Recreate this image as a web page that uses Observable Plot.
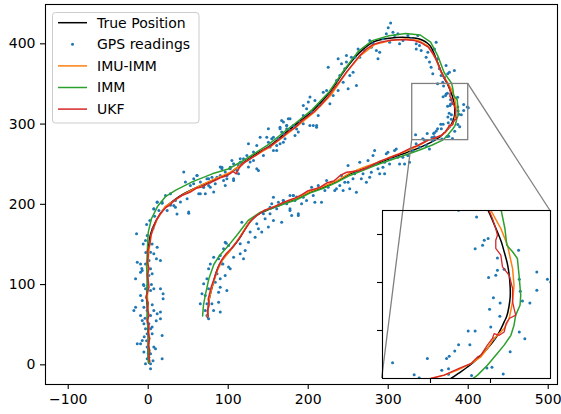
<!DOCTYPE html>
<html>
<head>
<meta charset="utf-8">
<script src="https://cdn.jsdelivr.net/npm/d3@7"></script>
<script src="https://cdn.jsdelivr.net/npm/@observablehq/plot@0.6"></script>
<style>
  html, body { margin: 0; padding: 0; background: white; }
  #chart { position: relative; width: 561px; height: 414px; }
  #chart svg { position: absolute; }
</style>
</head>
<body>
<div id="chart"></div>
<script>
// ---------- data ----------
const seriesNames = ["True Position", "GPS readings", "IMU-IMM", "IMM", "UKF"];
const seriesColors = ["#000000", "#1f77b4", "#ff7f0e", "#2ca02c", "#d62728"];
const xTicks = [-100, 0, 100, 200, 300, 400, 500];
const yTicks = [0, 100, 200, 300, 400];
const insetXTicks = [350, 375];
const insetYTicks = [300, 320, 340];
const zoomRegion = [{x1: 330, x2: 400, y1: 280, y2: 350}];

const truePos = [[1,2],[0,12],[0,25],[0,40],[-1,55],[-1,70],[-2,84],[-1,100],[-1,120],[0,142],[3,163],[10,180],[21,196],[32,205],[44,213],[65,223],[86,232],[102,239],[119,252],[135,263],[152,273],[168,286],[185,300],[206,317],[227,340],[247,369],[264,389],[281,402],[302,407],[322,408],[339,406],[352,398],[360,381],[368,361],[374,350],[376.2,345],[377.9,341],[379.5,337],[380.7,332.8],[382,328],[382.8,323],[383.2,318],[383.2,314],[382.7,310],[381.8,306],[380.7,303.6],[379.4,300.8],[377.9,298],[376,295.3],[373.7,292.5],[371,289.7],[368.2,287],[365.4,284.8],[362.6,282.8],[358.5,280],[352,276.5],[340,271],[327,266],[302,257],[285,250.5],[268.5,244],[252,238],[235,228],[219,221],[202,215],[186,207],[169,201],[152,194],[140,189],[127,178],[115,159],[102,142],[92,130],[86,118],[80,97],[76,80],[74,59]];

const imuImm = [[1,3],[1,13],[0,26],[1,41],[-1,56],[0,71],[-1,85],[0,101],[-1,121],[1,143],[4,163],[11,181],[21,197],[33,205],[45,213],[66,224],[86,233],[103,240],[120,252],[136,262],[153,272],[170,285],[187,298],[208,315],[229,337],[249,366],[266,386],[283,399],[303,404],[322,406],[338,404],[350,397],[359,382],[367,363],[375.1,350.1],[379.3,342.5],[382.1,335.5],[384.2,325.8],[384.8,318.9],[384.2,312],[382.8,305],[380.7,300.8],[376.5,296.7],[373.7,292.5],[371,289],[366.8,286.2],[361.3,283.5],[355.7,281.4],[350.1,280],[340,274],[327,268],[303,259],[286,252],[269,246],[252,239],[235,229],[218,222],[202,216],[186,208],[169,202],[152,195],[140,190],[127,179],[115,160],[103,143],[93,131],[87,119],[80,98],[76,81],[74,60]];

const imm = [[0,3],[0,14],[1,27],[0,42],[-1,57],[-1,72],[-2,86],[-1,102],[-2,122],[-1,144],[0,165],[4,182],[12,198],[22,210],[35,218],[55,228],[80,238],[100,244],[118,254],[134,264],[151,275],[167,288],[184,301],[205,318],[226,340],[246,369],[263,391],[280,404],[301,410],[322,413],[340,411],[353,402],[362,385],[370,364],[379.3,350.8],[381,342.5],[381.8,335.5],[384.2,332.8],[386.2,330],[386.9,323],[387.6,314.7],[387.3,310.5],[385.5,306.4],[384.8,302.2],[383.5,298],[380.7,293.9],[377.2,289.7],[373.7,285.5],[369.6,281.4],[366.8,279.3],[355,274],[340,268],[326,263],[302,255],[285,249],[268,242],[252,236],[235,227],[219,220],[202,214],[186,206],[169,200],[152,194],[140,190],[125,180],[112,163],[99,147],[89,136],[82,125],[76,108],[72,90],[69,74],[68,61]];

const ukf = [[2,4],[1,10],[2,18],[0,25],[2,33],[0,40],[1,48],[-1,55],[1,62],[-1,70],[0,77],[-3,84],[-1,90],[1,97],[0,105],[-1,112],[1,120],[-1,128],[0,136],[-1,142],[2,150],[3,160],[6,170],[10,180],[15,188],[22,196],[28,200],[34,206],[42,211],[52,215],[60,220],[68,222],[75,226],[84,230],[90,233],[96,235],[102,238],[106,241],[110,238],[114,246],[120,252],[128,257],[136,262],[144,268],[152,272],[160,278],[168,284],[176,291],[184,296],[192,304],[200,310],[208,316],[216,324],[224,333],[232,344],[240,354],[248,365],[256,375],[264,385],[272,393],[281,399],[290,402],[300,404],[311,405],[322,405],[333,404],[342,401],[350,396],[356,388],[361,378],[366,366],[370,358],[374.4,350.1],[375.8,346.7],[377.2,342.5],[377.9,339.7],[377.2,337.6],[377.2,334.2],[379.3,331.4],[380,326.5],[382.8,323],[384.2,317.5],[384.2,312],[384.8,309.2],[385.5,306.4],[382.8,305],[381.5,302.9],[380.7,299.4],[378.6,298],[376.5,298.7],[375.8,296.7],[373.7,293.9],[371,289.7],[369.6,289],[366.8,286.2],[361.9,284.2],[355.7,281.4],[350.1,280],[344,277],[336,273],[328,270],[320,266],[312,262],[304,259],[296,256],[288,253],[280,249],[272,245],[264,242],[256,241],[248,240],[240,236],[232,229],[224,227],[216,222],[208,219],[200,217],[192,212],[184,208],[176,205],[168,202],[160,198],[152,195],[146,193],[140,189],[134,185],[128,179],[122,170],[116,161],[110,152],[104,145],[97,138],[92,131],[88,123],[85,115],[82,106],[79,98],[77,90],[75,82],[76,74],[74,67],[75,60]];

const gps = [
  // first vertical leg
  [11.2,202.6],[17.4,201.4],[27.8,200.5],[31.9,198.5],[34,196.4],[50.6,188.9],[23.6,192.2],[36,188],[7,194.3],[-14.6,163.2],[-1.3,161.1],[-3.4,154.9],[-6.3,150.7],[4.9,150.7],[11.2,146.6],[2.9,140.4],[7,138.3],[10.3,132.1],[15.3,130],[-13.7,127.9],[-9.6,125.8],[-3.4,125.8],[-7.5,117.5],[-9.6,115.5],[2.9,119.6],[4.9,113.4],[0.8,111.3],[-15.8,107.2],[-5.4,98.9],[-3.4,94.7],[2.9,92.6],[7,94.7],[15.3,94.7],[18.6,88.5],[18.6,82.2],[-9.6,86.4],[-7.5,80.2],[-15.8,71.9],[-17.9,67.7],[-5.4,71.9],[-1.3,67.7],[7,67.7],[2.9,61.5],[11.2,63.6],[15.3,65.7],[-9.6,61.5],[-7.5,55.3],[-5.4,51.1],[0.8,51.1],[4.9,47],[-3.4,44.9],[15.3,57.4],[17.4,36.6],[-1.3,38.7],[4.9,38.7],[-7.5,30.4],[-13.7,26.3],[-9.6,26.3],[-1.3,22.1],[7,22.1],[9.1,20],[-5.4,15.9],[2.9,13.8],[0.8,9.6],[17.4,7.6],[-3.4,1.3],[2.9,1.3],[2.9,-4.9],[-1.3,7.6],
  [-2,30],[3,45],[-4,58],[5,75],[-6,100],[1,130],[-3,140],[6,170],[2,180],[8,185],[-2,175],[4,100],[-8,120],[10,55],[-5,35],[0,14],[6,5],
  // second leg, lower part
  [97.5,151.6],[90,136.2],[88,132.1],[77.6,125.8],[93.3,125.8],[102.5,119.6],[75.5,119.6],[85.9,113.4],[96.2,111.3],[90,107.2],[73.4,107.2],[69.3,100.9],[83.8,103],[90,96.8],[98.3,92.6],[88,90.6],[67.2,88.5],[71.3,86.4],[75.5,94.7],[65.1,76],[73.4,76],[79.6,76],[88,78.1],[90,65.7],[81.7,67.7],[71.3,67.7],[75.5,57.4],[73.4,61.5],
  // second leg, middle
  [117,177.8],[96.3,152.9],[94.2,144.6],[106.7,134.2],[115,138.4],[119.1,132.2],[121.2,142.5],[125.3,152.9],[127.4,165.4],[135.7,175.7],[137.8,169.5],[141.9,165.4],[133.6,159.1],[150.2,171.6],[156.5,179.9],[146.1,182],[144,188.2],[152.3,188.2],[154.4,200.6],[162.7,198.6],[168.9,204.8],[177.2,194.4],[179.3,186.1],[166.8,177.8],[181.4,211],[185.5,209],[187.6,188.2],[81.8,134.2],[92.1,125.9],[100.4,121.8],[100.4,148.8],[115,150.9],
  // first leg diagonal
  [61,235.9],[69.3,221.4],[71.4,213.1],[77.6,221.4],[83.8,225.5],[85.9,233.9],[94.2,229.7],[96.3,223.5],[98.4,235.9],[106.7,229.7],[106.7,250.5],[115,252.5],[131.6,254.6],[137.8,242.1],[110.8,242.1],[92.1,246.3],[56.8,225.5],[75.5,231.8],[102.5,246.3],[65.1,213.1],
  [7.05,194.5],[11.2,202.8],[17.4,202.8],[21.6,211.1],[27.8,213.2],[34,204.9],[40.3,202.8],[48.6,206.9],[44.4,240.2],[46.5,227.7],[52.7,223.6],[56.9,231.9],[61,236],[65.2,227.7],[69.3,221.5],[75.5,223.6],[77.6,227.7],[81.8,215.3],[63.1,213.2],[90,236],[92.1,244.3],[96.3,240.2],[98.3,231.9],[104.6,254.7],[106.7,231.9],[112.9,248.4],[115,256.8],[119.1,256.8],[125.3,246.4],[127.4,252.6],[123.3,260.9],[125.3,275.4],[135.7,273.4],[135.7,244.3],[131.6,265.1],[139.9,283.7],[148.2,283.7],[150.2,277.5],[152.3,271.3],[154.4,281.7],[156.5,267.1],[160.6,273.4],[162.7,281.7],[166.8,290],[166.8,304.5],[168.9,277.5],[171,281.7],[173.1,294.1],[175.1,306.6],[102.5,244.3],[73.4,231.9],[90,246.4],[27.8,198.7],[50.6,190.4],[13.3,192.4],[79.7,233.9],[112.9,238.1],[144,260.9],[150.2,294.1],
  [164.8,296.1],[168.9,287.8],[173.1,298.2],[156.5,283.7],[164.8,275.4],[177.2,292],[185.5,294],[193.8,300.3],[202.1,298.2],[210.4,296.1],[160.6,267],
  // upper loop
  [164.8,294.2],[169,302.5],[173.1,298.3],[177.3,306.6],[181.4,298.3],[183.5,285.9],[187.6,290],[189.7,302.5],[193.9,310.8],[193.9,323.2],[198,319.1],[200.1,327.4],[202.2,333.6],[204.2,314.9],[206.3,298.3],[210.5,298.3],[212.5,310.8],[208.4,329.4],[214.6,323.2],[218.8,339.8],[222.9,341.9],[227.1,325.3],[231.2,335.7],[225,370.9],[235.4,354.3],[237.4,341.9],[239.5,360.6],[241.6,375.1],[243.7,352.2],[245.7,368.9],[247.8,377.2],[249.9,344],[252,360.6],[254,383.4],[258.2,383.4],[256.1,364.7],[262.3,393.7],[264.4,383.4],[270.6,391.7],[276.9,404.1],[278.9,395.8],[281,400],[285.2,391.7],[287.2,381.3],[289.3,389.6],[293.5,406.2],[297.6,412.4],[301.8,402],[305.9,414.5],[308,410.4],[312.1,412.4],[314.2,400],[318.4,404.1],[324.6,410.4],[328.7,406.2],[335,400],[335,393.7],[337,410.4],[339.1,397.9],[341.2,391.7],[347.4,383.4],[349.5,389.6],[351.6,377.2],[353.6,370.9],[355.7,362.6],[359.9,402],[361.9,381.3],[357.8,393.7],[364,368.9],[366.1,360.6],[368.2,352.2],[370.2,358.5],[372.3,373],[374.4,362.6],[376.5,364.7],[382.7,366.8],[247.8,385.4],[237.4,381.3],[260.3,348.1],[300,420],[303,426],
  // zoomed region
  [361.7,350.1],[369.2,347.3],[374,338.3],[372.4,337.6],[371.7,335.5],[368.6,334.1],[377.9,330.2],[380.7,325.5],[377.9,325.1],[377.2,323],[374.2,322.1],[386.7,333.4],[387,321.4],[394.3,324.4],[398.7,321.4],[400.1,320.2],[394.3,316.8],[387.4,316.4],[388.3,312.3],[391.4,311.5],[376.2,313.6],[379,311.5],[374.6,308.9],[378.9,305.9],[375.1,301.5],[365.7,299.8],[368.6,299.8],[387,299.4],[389.3,296.6],[376.5,296.6],[361.7,294.1],[366.4,294.1],[383.2,291.1],[360.1,291.5],[357.8,289.3],[356.7,288.3],[348.7,288.3],[354.7,283.4],[357.5,284.1],[334.2,286.6],[375.6,284.7],[373.5,284.4],[367.1,281.3],[380.3,281.9],[345.3,280.2],[357.5,281.8],
  // return leg
  [156.5,208.9],[160.6,194.4],[162.7,202.7],[168.9,204.8],[173.1,200.6],[177.2,192.4],[181.4,211],[183.4,204.8],[187.6,186.1],[191.7,200.6],[193.8,208.9],[197.9,204.8],[204.2,221.4],[206.3,211],[212.5,223.5],[216.6,202.7],[220.8,217.3],[224.9,221.4],[229.1,227.6],[233.2,217.3],[239.5,223.5],[241.5,235.9],[243.6,217.3],[245.7,227.6],[249.8,248.4],[251.9,219.3],[256,231.8],[258.1,238],[262.3,242.2],[264.4,252.5],[266.4,231.8],[268.5,238],[272.7,246.3],[274.7,254.6],[276.8,233.9],[278.9,240.1],[281,260.8],[283,267],[285.1,250.4],[287.2,244.2],[289.3,238],[293.4,246.3],[295.5,252.5],[297.6,262.9],[299.6,265],[301.7,250.4],[303.8,256.7],[307.9,267],[310,269.1],[312.1,258.8],[314.2,250.4],[318.3,258.8],[320.4,250.4],[324.5,260.8],[326.6,252.5],[330.8,267],[260.2,215.2],[235.3,219.3],[208.3,202.7],[222.9,229.7],[272.7,227.6],[295.5,238],[249.8,227.6],[177.2,211],[152.3,196.5],
  [334.9,275.4],[343.2,281.6],[339,271.2],[347.4,273.3],[355.7,279.5],[351.5,269.1]
];

// ---------- layout ----------
const W = 561, H = 414;
const font = "14px 'DejaVu Sans', sans-serif";
const fmt = d => (d < 0 ? "\u2212" + (-d) : String(d));
const xy = {x: d => d[0], y: d => d[1]};
const lw = 1.5;

const main = Plot.plot({
  width: W, height: H,
  marginLeft: 45, marginRight: 4, marginTop: 4, marginBottom: 30,
  style: {font, background: "white", overflow: "visible"},
  x: {domain: [-128.4, 511.6]},
  y: {domain: [-24.5, 449]},
  marks: [
    Plot.axisX({ticks: xTicks, tickSize: 5, tickPadding: 5, tickFormat: fmt, stroke: "#000", fill: "#000", strokeWidth: 1.1, fontSize: 14}),
    Plot.axisY({ticks: yTicks, tickSize: 5, tickPadding: 5, tickFormat: fmt, stroke: "#000", fill: "#000", strokeWidth: 1.1, fontSize: 14}),
    Plot.line(truePos, {...xy, stroke: seriesColors[0], strokeWidth: lw, curve: "catmull-rom"}),
    Plot.dot(gps, {...xy, r: 1.5, fill: seriesColors[1], stroke: "none"}),
    Plot.line(imuImm, {...xy, stroke: seriesColors[2], strokeWidth: lw}),
    Plot.line(imm, {...xy, stroke: seriesColors[3], strokeWidth: lw}),
    Plot.line(ukf, {...xy, stroke: seriesColors[4], strokeWidth: lw}),
    Plot.rect(zoomRegion, {x1: "x1", x2: "x2", y1: "y1", y2: "y2", fill: "none", stroke: "#808080", strokeWidth: 1.3}),
    Plot.frame({stroke: "#000", strokeWidth: 1.1})
  ]
});
const chart = document.getElementById("chart");
main.style.left = "0px"; main.style.top = "0px";
chart.appendChild(main);

// inset placement (pixels)
const inset = {left: 381.7, top: 210, size: 168};
const sx = main.scale("x"), sy = main.scale("y");
const z = zoomRegion[0];
const svg = d3.select(main);
const conn = [
  [[sx.apply(z.x2), sy.apply(z.y2)], [inset.left + inset.size, inset.top]],
  [[sx.apply(z.x1), sy.apply(z.y1)], [inset.left, inset.top + inset.size]]
];
svg.append("g").selectAll("line").data(conn).join("line")
  .attr("x1", d => d[0][0]).attr("y1", d => d[0][1])
  .attr("x2", d => d[1][0]).attr("y2", d => d[1][1])
  .attr("stroke", "#808080").attr("stroke-width", 1.3);

// legend
const lg = svg.append("g").attr("font-family", "'DejaVu Sans', sans-serif").attr("font-size", 14).attr("text-anchor", "start");
lg.append("rect").attr("x", 52.5).attr("y", 12.5).attr("width", 146.5).attr("height", 110.5)
  .attr("rx", 3).attr("fill", "white").attr("fill-opacity", 0.8).attr("stroke", "#cccccc").attr("stroke-width", 1);
const rowY = i => 22.7 + i * 21.6;
seriesNames.forEach((name, i) => {
  const y = rowY(i);
  if (i === 1) {
    lg.append("circle").attr("cx", 72.5).attr("cy", y).attr("r", 1.5).attr("fill", seriesColors[i]);
  } else {
    lg.append("line").attr("x1", 58).attr("x2", 87).attr("y1", y).attr("y2", y)
      .attr("stroke", seriesColors[i]).attr("stroke-width", lw);
  }
  lg.append("text").attr("x", 97).attr("y", y).attr("dy", "0.35em").attr("text-anchor", "start").attr("fill", "#000").text(name);
});

// inset plot
const mL = 7, mB = 7, mT = 1, mR = 1;
const insetPlot = Plot.plot({
  width: inset.size + mL + mR, height: inset.size + mT + mB,
  marginLeft: mL, marginBottom: mB, marginTop: mT, marginRight: mR,
  style: {background: "transparent", overflow: "visible"},
  x: {domain: [z.x1, z.x2]},
  y: {domain: [z.y1, z.y2]},
  marks: [
    Plot.line(truePos, {...xy, stroke: seriesColors[0], strokeWidth: lw, curve: "catmull-rom", clip: true}),
    Plot.dot(gps, {...xy, r: 1.5, fill: seriesColors[1], stroke: "none", clip: true}),
    Plot.line(imuImm, {...xy, stroke: seriesColors[2], strokeWidth: lw, clip: true}),
    Plot.line(imm, {...xy, stroke: seriesColors[3], strokeWidth: lw, clip: true}),
    Plot.line(ukf, {...xy, stroke: seriesColors[4], strokeWidth: 1.3, clip: true}),
    Plot.axisX({ticks: insetXTicks, tickSize: 5, tickFormat: () => "", stroke: "#000", strokeWidth: 1.1}),
    Plot.axisY({ticks: insetYTicks, tickSize: 5, tickFormat: () => "", stroke: "#000", strokeWidth: 1.1}),
    Plot.frame({stroke: "#000", strokeWidth: 1.1})
  ]
});
insetPlot.style.left = (inset.left - mL) + "px";
insetPlot.style.top = (inset.top - mT) + "px";
chart.appendChild(insetPlot);
</script>
</body>
</html>
